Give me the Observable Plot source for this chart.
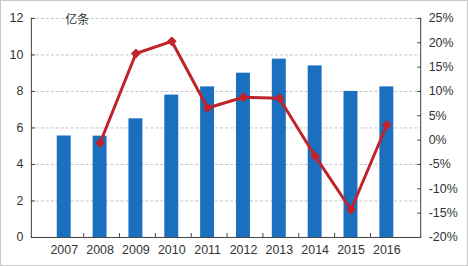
<!DOCTYPE html>
<html><head><meta charset="utf-8">
<script src="https://cdn.jsdelivr.net/npm/d3@7"></script>
<script src="https://cdn.jsdelivr.net/npm/@observablehq/plot@0.6"></script>
<style>
body{margin:0;background:#fff;}
#c{width:466px;height:264px;border:1px solid #c8c8c8;position:relative;overflow:hidden;}
#c svg{position:absolute;left:-1px;top:-1px;}
</style></head><body><div id="c"></div>
<script>
const years = [2007,2008,2009,2010,2011,2012,2013,2014,2015,2016];
const volumes = [5.56,5.55,6.5,7.8,8.25,9.0,9.77,9.4,8.0,8.25]; // 亿条
const growthYears = [2008,2009,2010,2011,2012,2013,2014,2015,2016];
const growth = [-0.6,17.8,20.3,6.6,8.8,8.6,-3.3,-14.3,3.1]; // %
const leftTicks = [0,2,4,6,8,10,12];
const pctTicks = [-20,-15,-10,-5,0,5,10,15,20,25];
const unitLabel = "亿条";

const W = 468, H = 266, mL = 31, mR = 46, mT = 18, mB = 28;
const toLeft = p => (p + 20) * 12 / 45;
const step = (W - mL - mR) / years.length;

const bars = years.map((y,i)=>({year:String(y), v:volumes[i]}));
const line = growthYears.map((y,i)=>({year:String(y), v:toLeft(growth[i])}));

const font = "Liberation Sans, Arial, sans-serif";
const chart = Plot.plot({
  width: W, height: H,
  marginLeft: mL, marginRight: mR, marginTop: mT, marginBottom: mB,
  style: {fontFamily: font, fontSize: "12px", color: "#333", background: "transparent"},
  x: {domain: years.map(String), padding: 0.6, label: null},
  y: {domain: [0,12], label: null},
  marks: [
    Plot.gridY([2,4,6,8,10,12], {stroke:"#c4c4c4", strokeOpacity:1, strokeDasharray:"3,2"}),
    Plot.barY(bars, {x:"year", y:"v", fill:"#1b6fbf"}),
    Plot.line(line, {x:"year", y:"v", stroke:"#c1232b", strokeWidth:3}),
    Plot.dot(line, {x:"year", y:"v", symbol:"diamond2", r:3.5, fill:"#c1232b", stroke:"#c1232b"}),
    // left axis
    Plot.axisY(leftTicks, {anchor:"left", tickSize:0, tickPadding:8, fontSize:12.5, fill:"#333"}),
    Plot.axisY(leftTicks, {anchor:"left", tickSize:4, dx:4, text:null, stroke:"#404040"}),
    Plot.frame({anchor:"left", stroke:"#404040"}),
    // right axis
    Plot.axisY(pctTicks.map(toLeft), {anchor:"right", tickSize:0, tickPadding:8, fontSize:12.5, fill:"#333",
      tickFormat: d => Math.round(d*45/12 - 20) + "%"}),
    Plot.axisY(pctTicks.map(toLeft), {anchor:"right", tickSize:4, dx:-4, text:null, tickFormat:null, stroke:"#404040"}),
    Plot.frame({anchor:"right", stroke:"#404040"}),
    // bottom axis
    Plot.axisX({anchor:"bottom", tickSize:0, tickPadding:8, fontSize:12.5, fill:"#333"}),
    Plot.axisX(years.slice(0,-1).map(String), {anchor:"bottom", tickSize:4, dx:step/2, dy:-4, text:null, stroke:"#404040"}),
    Plot.ruleY([0], {stroke:"#404040"}),
    Plot.text([unitLabel], {frameAnchor:"top-left", dx:34, dy:-3, fontSize:12, fontFamily:"Noto Sans CJK SC", fill:"#333"})
  ]
});
document.getElementById("c").appendChild(chart);
</script></body></html>
